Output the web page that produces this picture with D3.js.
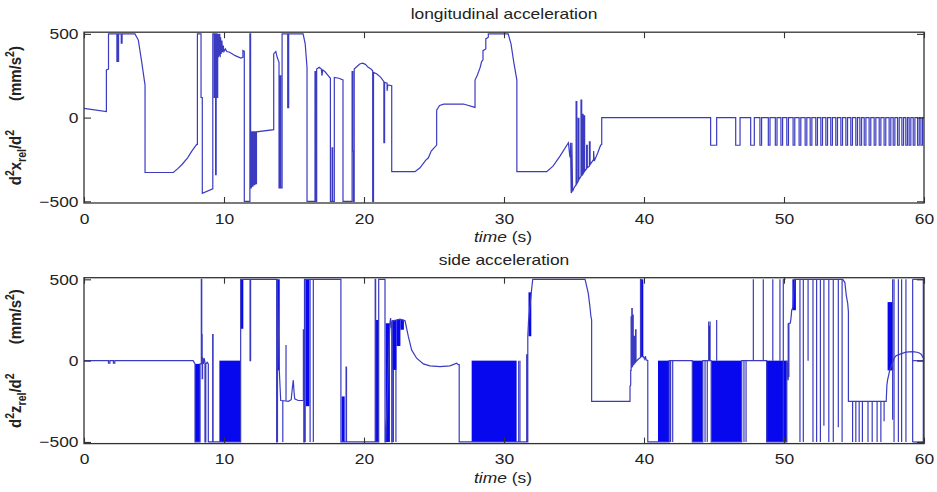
<!DOCTYPE html>
<html>
<head>
<meta charset="utf-8">
<script src="https://cdn.jsdelivr.net/npm/d3@7"></script>
<style>
  html, body { margin: 0; padding: 0; background: #fff; }
  svg { display: block; }
  text { font-family: "Liberation Sans", Arial, Helvetica, sans-serif; fill: #222; }
</style>
</head>
<body>
<svg id="chart" width="937" height="492"></svg>
<script>
// ---- axis ticks ----
const timeTicks = [0, 10, 20, 30, 40, 50, 60];
const accelTicks = [-500, 0, 500];
const timeDomain = [0, 60];
const accelDomain = [-510, 510];

// ---- longitudinal acceleration: [time s, mm/s^2] ----
const longitudinalPoints = [
  [0,55],[1.6,36],[1.6,285],[1.75,290],[1.75,500],
  [2.35,500],[2.35,335],[2.39,335],[2.39,500],[2.43,500],[2.43,335],[2.47,335],[2.47,500],
  [2.66,500],[2.66,445],[2.72,445],[2.72,500],
  [3.64,500],[3.88,463],[4.12,333],[4.36,194],[4.36,-328],
  [6.38,-328],[6.7,-305],[7.0,-280],[7.4,-240],[7.7,-200],[8.05,-160],[8.1,-160],[8.1,500],
  [8.36,500],[8.36,120],[8.45,120],[8.45,-452],[9.2,-425],[9.2,500],
  [9.3,500],[9.3,120],[9.35,120],[9.35,500],[9.4,500],[9.4,-340],[9.44,-340],[9.44,500],
  [9.5,500],[9.5,120],[9.55,120],[9.55,500],
  [9.6,360],[9.63,500],[9.66,370],[9.7,500],[9.73,360],[9.76,480],[9.8,380],[9.85,460],[9.9,390],
  [9.95,430],[10.0,395],[10.1,410],[10.2,395],[10.4,390],[10.8,370],[11.2,355],[11.35,360],
  [11.35,400],[11.45,395],[11.45,-500],
  [11.85,-500],[11.85,500],[11.9,500],[11.9,-420],[11.95,-420],[11.95,-85],[12.02,-85],[12.02,-410],
  [12.07,-410],[12.07,-85],[12.15,-85],[12.15,-400],[12.2,-400],[12.2,-85],[12.27,-85],[12.27,-395],
  [12.32,-395],[12.32,-85],
  [13.55,-72],[13.55,380],[13.7,395],[13.8,360],[13.93,330],[13.93,-420],[14.0,-420],[14.0,250],
  [14.05,250],[14.05,-420],[14.15,-420],[14.15,500],
  [14.55,500],[14.55,60],[14.62,60],[14.62,500],[15.65,500],[15.8,440],[15.93,300],[15.93,-500],
  [16.5,-500],[16.5,275],[16.55,275],[16.55,-500],[16.62,-500],[16.62,290],[16.8,300],[16.95,290],
  [17.0,250],[17.05,285],[17.2,275],[17.4,255],[17.6,235],[17.6,-500],
  [17.72,-500],[17.72,-180],[17.76,-180],[17.76,-500],[17.88,-500],[17.88,240],[18.2,235],[18.5,225],[18.5,-500],
  [19.15,-500],[19.15,275],[19.2,275],[19.2,-200],[19.25,-200],[19.25,-500],[19.3,-500],[19.3,290],
  [19.5,305],[19.7,320],[19.9,325],[20.1,318],[20.3,300],[20.5,290],[20.62,280],[20.62,-500],
  [20.68,-500],[20.68,270],[20.9,262],[21.2,240],[21.42,215],[21.42,-150],[21.47,-150],[21.47,210],
  [21.65,205],[21.65,160],[21.7,195],[21.98,190],[21.98,-323],
  [23.64,-323],[24.0,-300],[24.4,-255],[24.6,-240],[24.8,-200],[25.19,-164],[25.19,45],[25.4,72],
  [25.7,80],[27.1,81],[27.93,61],[27.93,224],[28.1,255],[28.3,300],[28.4,335],[28.5,345],[28.5,400],
  [28.7,410],[28.7,470],[28.88,480],[28.88,500],
  [30.3,500],[30.5,440],[30.7,330],[30.92,224],[30.92,-323],[33.05,-323],[33.5,-290],[34.0,-230],[34.6,-150],
  [34.7,-230],[34.75,-240],[34.75,-150],[34.8,-450],[34.85,-440],[34.85,-150],[34.9,-440],[35.0,-420],
  [35.15,-400],[35.15,95],[35.2,95],[35.2,-395],[35.3,-380],[35.3,-5],[35.35,-5],[35.35,-370],
  [35.5,-350],[35.5,105],[35.55,105],[35.55,-345],[35.6,-340],[35.6,20],[35.65,20],[35.65,-335],
  [35.72,-325],[35.72,10],[35.76,10],[35.76,-320],[35.9,-305],[35.9,-165],[35.95,-165],[35.95,-300],
  [36.1,-290],[36.1,-145],[36.15,-145],[36.15,-280],[36.4,-250],[36.4,-200],[36.45,-260],[36.7,-210],
  [36.9,-165],[36.98,-160],[36.98,0],
  [44.76,0]
];

// braking pulses in the last part of the run: [start s, end s]
const longPulses = [
  [44.76,45.19],[46.55,46.86],[47.62,47.88],[48.28,48.4],[48.88,49.0],[49.38,49.5],[49.78,49.9],
  [50.2,50.32],[50.65,50.77],[51.08,51.2],[51.51,51.63],[51.87,51.99],[52.27,52.39],[52.63,52.75],
  [52.99,53.11],[53.34,53.46],[53.7,53.82],[54.06,54.18],[54.42,54.54],[54.77,54.89],[55.13,55.25],
  [55.42,55.54],[55.73,55.85],[56.08,56.2],[56.44,56.56],[56.8,56.92],[57.15,57.27],[57.51,57.63],
  [57.8,57.92],[58.11,58.23],[58.42,58.54],[58.7,58.82],[58.94,59.06],[59.23,59.35],[59.54,59.66],
  [59.78,59.9]
];
const longPulseLevel = -165;
const longEnd = [60, 0];

// ---- side acceleration: [time s, mm/s^2] ----
const sidePoints = [
  [0,0],[1.75,0],[1.75,-15],[1.85,-15],[1.85,0],[2.1,0],[2.1,-15],[2.2,-15],[2.2,0],
  [7.8,0],[7.93,-20],[7.93,-500],[8.29,-500],[8.29,-20],[8.38,-20],[8.38,500],[8.41,500],[8.41,160],
  [8.44,160],[8.44,-110],[8.47,-110],[8.47,20],[8.53,-20],[8.58,15],[8.64,-10],[8.64,-500],[8.7,-500],
  [8.7,-20],[8.8,-10],[8.88,-20],[8.88,-500],[9.19,-500],[9.19,160],[9.22,160],[9.22,-500],[9.67,-500],
  [11.19,-500],[11.19,500],[11.86,500],[11.86,0],[11.9,0],[11.9,500],
  [13.76,500],[13.76,-500],[13.8,-500],[13.8,500],[13.95,-60],[14.05,-245],[14.4,-248],[14.6,-250],
  [14.8,-240],[14.88,-170],[14.95,-120],[15.0,-190],[15.05,-235],[15.3,-245],[15.67,-245],[15.67,190],
  [15.7,190],[15.7,-500],[15.75,-500],[15.75,500],[16.42,500],
  [18.35,500],[18.35,-500],[18.72,-500],[18.72,-40],[18.75,-40],[18.75,-500],
  [20.8,-500],[20.8,500],[20.83,500],[20.83,-500],[21.05,-500],[21.05,500],[21.5,500],[21.5,-500],
  [21.55,-500],[21.85,230],[21.9,262],[21.95,200],[21.98,240],[21.98,-500],[22.02,-500],[22.02,245],
  [22.33,250],[22.57,255],[22.93,245],[23.17,147],[23.4,66],[23.76,15],[24.24,-20],[24.71,-32],
  [25.43,-37],[26.14,-32],[26.62,-16],[26.74,-25],[26.8,-25],[26.8,-500],[27.69,-500],
  [30.9,-500],[31.62,-500],[31.62,35],[31.66,35],[31.66,-500],[31.7,-500],[31.7,150],[31.75,240],
  [31.95,420],[32.05,500],[35.79,500],[36.02,413],[36.14,331],[36.21,270],[36.26,250],[36.26,-251],
  [39.0,-251],[39.0,-159],[39.05,-150],[39.05,-60],[39.08,-60],[39.08,270],[39.1,270],[39.1,-40],
  [39.13,-40],[39.13,320],[39.16,320],[39.16,-37],[39.2,-30],[39.2,280],[39.23,280],[39.23,-25],
  [39.3,-20],[39.3,150],[39.34,150],[39.34,-15],[39.4,-10],[39.4,190],[39.43,190],[39.43,-5],
  [39.6,10],[39.75,20],[39.75,500],[39.78,500],[39.78,25],[39.95,25],[40.05,10],[40.1,28],[40.15,5],
  [40.27,0],[40.27,-500],[41.0,-500],
  [41.8,-500],[41.8,0],[42.1,0],[43.45,0],[43.45,-500],
  [44.2,-500],[44.2,0],[44.8,0],[44.8,-500],[46.98,-500],[46.98,0],[48.76,0],[48.76,-500],[50.2,-500],
  [50.2,0],[50.3,-120],[50.3,230],[50.35,-100],[50.35,230],[50.45,230],[50.5,260],[50.55,310],
  [50.65,330],[50.7,420],[50.75,500],
  [54.2,500],[54.35,480],[54.45,400],[54.55,352],[54.6,300],[54.6,-251],
  [57.3,-251],[57.35,-150],[57.4,-118],[57.55,-60],[57.86,15],[58.0,30],[58.3,40],[58.7,52],
  [59.2,55],[59.6,50],[59.8,40],[59.9,25],[60,10]
];

// switching (chattering) intervals: [start s, end s, low, high]
const sideBands = [
  [7.93,8.29,-500,-20],[9.67,11.19,-500,0],[11.19,11.38,196,500],[13.78,13.98,-60,500],
  [15.85,16.1,-280,500],[18.4,18.62,-500,-220],[20.83,21.05,-500,250],[21.55,21.85,-500,230],
  [22.02,22.33,-57,250],[22.33,22.6,90,255],[22.6,22.85,190,252],[27.69,30.9,-500,0],
  [31.75,31.95,150,420],[39.78,39.95,25,500],[41.0,41.8,-500,0],[43.45,44.2,-500,0],
  [44.62,44.72,0,215],[44.8,46.98,-500,0],[48.76,50.2,-500,0],[50.6,50.85,310,500],
  [57.4,57.8,-60,360]
];

// isolated switching strokes: [t1, v1, t2, v2]
const sideStrokes = [
  [13.82,500,13.82,-500],[14.2,-245,14.2,-500],[14.43,-248,14.43,96],
  [15.8,500,15.8,-500],[16.15,500,16.15,-500],[16.38,500,16.38,-500],
  [22.1,-57,22.1,-500],[22.28,-57,22.28,-500],
  [31.05,0,31.05,-500],[31.14,0,31.14,-500],
  [41.9,0,41.9,-500],[42.05,0,42.05,-500],
  [44.36,0,44.36,-500],[44.52,0,44.52,-500],[44.62,0,44.62,240],[44.72,0,44.72,240],[45.19,0,45.19,250],
  [47.14,0,47.14,-500],[47.29,0,47.29,-500],[47.81,0,47.81,500],[48.52,0,48.52,500],
  [49.2,0,49.2,500],[49.71,0,49.71,500],[49.95,500,49.95,-500],[49.95,500,50.1,500],
  [51.14,500,51.14,-500],[51.38,500,51.38,-500],[51.72,500,51.72,0],[52.07,500,52.07,-500],
  [52.33,500,52.33,-500],[52.6,500,52.6,-500],[52.85,500,52.85,-400],[53.2,500,53.2,-500],
  [53.52,500,53.52,-500],[53.88,500,53.88,-410],[54.15,500,54.15,-500],
  [54.9,-251,54.9,-500],[55.13,-251,55.13,-500],[55.37,-251,55.37,-500],[55.6,-251,55.6,-500],
  [56.0,-251,56.0,-500],[56.3,-251,56.3,-500],[56.65,-251,56.65,-500],[56.92,-251,56.92,-500],
  [57.15,-251,57.15,-373],
  [57.76,500,57.76,-363],[57.86,500,57.86,-500],[58.17,500,58.17,-500],[58.4,500,58.4,-500],
  [58.71,500,58.71,-500],[59.19,500,59.19,-500],[59.95,500,59.95,-500],
  [59.19,500,59.95,500],[59.19,-500,59.95,-500],[59.2,0,59.95,0]
];

// ---- drawing ----
const svg = d3.select('#chart');
const LEFT = 84, RIGHT = 924;
const LINE = '#3b3bc2', FILL = '#0808ee';
const STRETCH = 1.16;

function stretchText(sel) {
  sel.each(function () {
    const w = this.getComputedTextLength();
    if (w > 0) {
      this.setAttribute('textLength', (w * STRETCH).toFixed(1));
      this.setAttribute('lengthAdjust', 'spacingAndGlyphs');
    }
  });
}

const x = d3.scaleLinear().domain(timeDomain).range([LEFT, RIGHT]);

function panel(cfg) {
  const y = d3.scaleLinear().domain(accelDomain).range([cfg.bottom, cfg.top]);
  const g = svg.append('g');

  // chattering bands
  g.selectAll('rect.band').data(cfg.bands || []).join('rect')
    .attr('class', 'band')
    .attr('x', d => x(d[0])).attr('width', d => Math.max(0.8, x(d[1]) - x(d[0])))
    .attr('y', d => y(d[3])).attr('height', d => y(d[2]) - y(d[3]))
    .attr('fill', FILL);

  // main signal
  g.append('path').datum(cfg.points)
    .attr('fill', 'none').attr('stroke', LINE).attr('stroke-width', 1.2)
    .attr('stroke-linejoin', 'miter')
    .attr('d', d3.line().x(d => x(d[0])).y(d => y(d[1])));

  // extra switching strokes
  g.selectAll('line.stroke').data(cfg.strokes || []).join('line')
    .attr('class', 'stroke')
    .attr('x1', d => x(d[0])).attr('y1', d => y(d[1]))
    .attr('x2', d => x(d[2])).attr('y2', d => y(d[3]))
    .attr('stroke', LINE).attr('stroke-width', 1.2);

  // frame
  g.append('rect').attr('x', LEFT).attr('y', cfg.top)
    .attr('width', RIGHT - LEFT).attr('height', cfg.bottom - cfg.top)
    .attr('fill', 'none').attr('stroke', '#333').attr('stroke-width', 1.3);

  // ticks (inward, on all four sides) and labels
  const axB = g.append('g').attr('transform', `translate(0,${cfg.bottom})`)
    .call(d3.axisBottom(x).tickValues(timeTicks).tickSize(-6).tickPadding(10));
  g.append('g').attr('transform', `translate(0,${cfg.top})`)
    .call(d3.axisTop(x).tickValues(timeTicks).tickSize(-6).tickFormat(''));
  const axL = g.append('g').attr('transform', `translate(${LEFT},0)`)
    .call(d3.axisLeft(y).tickValues(accelTicks).tickSize(-7).tickPadding(5.5));
  g.append('g').attr('transform', `translate(${RIGHT},0)`)
    .call(d3.axisRight(y).tickValues(accelTicks).tickSize(-7).tickFormat(''));
  g.selectAll('.domain').remove();
  g.selectAll('.tick line').attr('stroke', '#333').attr('stroke-width', 1.1);
  [axB, axL].forEach(a => {
    a.attr('font-family', null).attr('font-size', null);
    a.selectAll('text').attr('font-size', 15).attr('fill', '#222').call(stretchText);
  });

  // title
  g.append('text').attr('x', 504).attr('y', cfg.titleY)
    .attr('text-anchor', 'middle').attr('font-size', 15)
    .text(cfg.title).call(stretchText);

  // x label
  const xl = g.append('text').attr('x', 503).attr('y', cfg.bottom + 39)
    .attr('text-anchor', 'middle').attr('font-size', 15);
  xl.append('tspan').attr('font-style', 'italic').text('time');
  xl.append('tspan').text(' (s)');
  xl.call(stretchText);

  // y label (rotated, two parts)
  const zero = y(0);
  const yl1 = g.append('g')
    .attr('transform', `translate(21,${zero + 40}) scale(${STRETCH},1) rotate(-90)`)
    .append('text').attr('text-anchor', 'middle').attr('font-size', 15).attr('font-weight', 'bold');
  yl1.append('tspan').text('d');
  yl1.append('tspan').attr('font-size', 10.5).attr('dy', -6).text('2');
  yl1.append('tspan').attr('dy', 6).text(cfg.symbol);
  yl1.append('tspan').attr('font-size', 10.5).attr('dy', 4).text('rel');
  yl1.append('tspan').attr('dy', -4).text('/d');
  yl1.append('tspan').attr('font-size', 10.5).attr('dy', -6).text('2');

  const yl2 = g.append('g')
    .attr('transform', `translate(21,${zero - 44}) scale(${STRETCH},1) rotate(-90)`)
    .append('text').attr('text-anchor', 'middle').attr('font-size', 15).attr('font-weight', 'bold');
  yl2.append('tspan').text('(mm/s');
  yl2.append('tspan').attr('font-size', 10.5).attr('dy', -6).text('2');
  yl2.append('tspan').attr('dy', 6).text(')');
}

const longitudinalSeries = longitudinalPoints
  .concat(longPulses.flatMap(([a, b]) => [[a, 0], [a, longPulseLevel], [b, longPulseLevel], [b, 0]]))
  .concat([longEnd]);

panel({
  top: 32.2, bottom: 203, titleY: 19,
  title: 'longitudinal acceleration', symbol: 'x',
  points: longitudinalSeries
});

panel({
  top: 277.7, bottom: 443.6, titleY: 265,
  title: 'side acceleration', symbol: 'z',
  points: sidePoints, bands: sideBands, strokes: sideStrokes
});
</script>
</body>
</html>
